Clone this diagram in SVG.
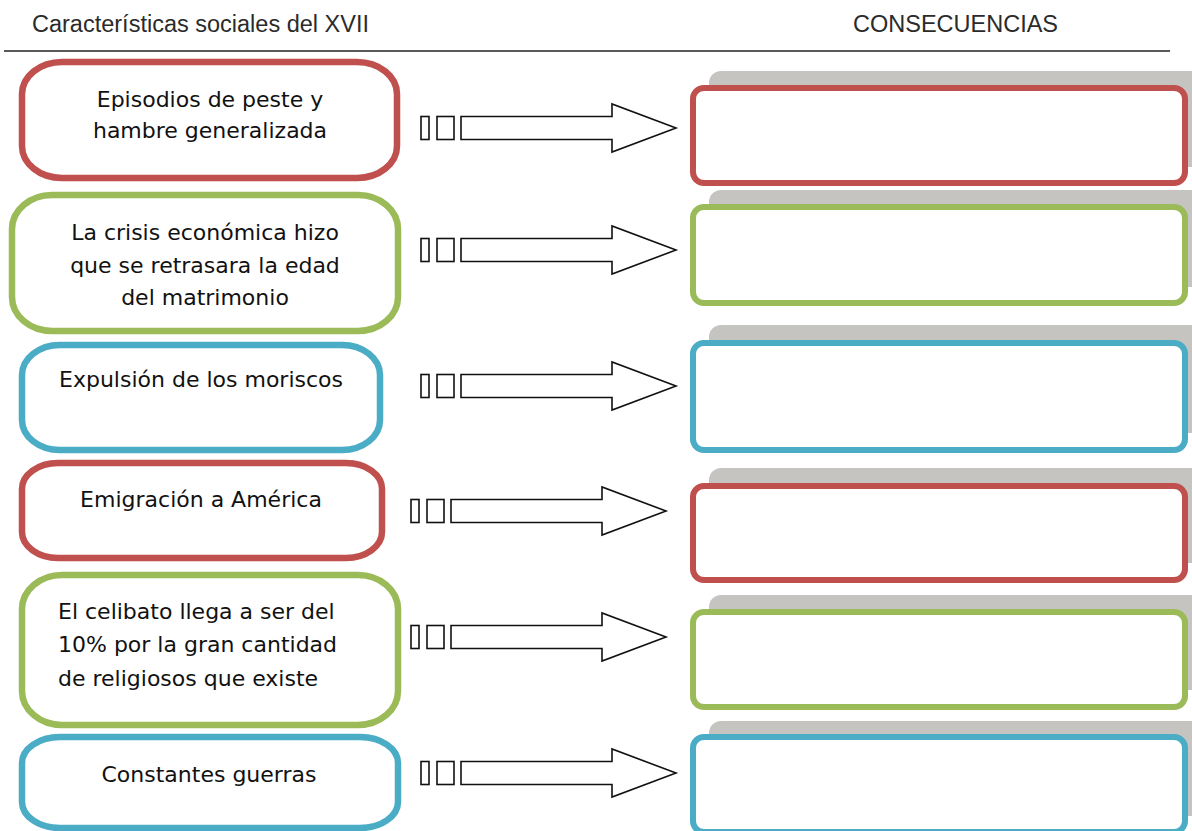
<svg xmlns="http://www.w3.org/2000/svg" width="1192" height="831" viewBox="0 0 1192 831">
<style>
.hdr{font-family:"Liberation Sans",Arial,sans-serif;font-size:23.5px;fill:#2b2b2b}
.t{font-family:"Comic Sans MS","DejaVu Sans",sans-serif;font-size:22px;fill:#111}
.c{text-anchor:middle}
.lb{fill:#fff;stroke-width:6.5}
.rb{fill:#fff;stroke-width:6}
.sh{fill:#c5c4c0}
.red{stroke:#c0504d}
.grn{stroke:#9bbb59}
.blu{stroke:#4bacc6}
.ar{fill:#fff;stroke:#111;stroke-width:1.6;stroke-linejoin:miter}
</style>
<defs>
<g id="arrow">
<rect class="ar" x="0" y="-11.5" width="8" height="23"/>
<rect class="ar" x="16" y="-11.5" width="17" height="23"/>
<polygon class="ar" points="40,-11.5 191,-11.5 191,-24 255,0 191,24 191,11.5 40,11.5"/>
</g>
</defs>
<rect width="1192" height="831" fill="#fff"/>
<text class="hdr" x="32" y="32">Características sociales del XVII</text>
<text class="hdr" x="853" y="32">CONSECUENCIAS</text>
<line x1="4" y1="51" x2="1170" y2="51" stroke="#222" stroke-width="1.3"/>

<g id="n1">
<rect class="lb red" x="22" y="62" width="375" height="116" rx="40" ry="32"/>
<text class="t c" x="210" y="107">Episodios de peste y</text>
<text class="t c" x="210" y="138">hambre generalizada</text>
</g>
<g id="n2">
<rect class="lb grn" x="12" y="195" width="386" height="136" rx="40" ry="34"/>
<text class="t c" x="205" y="240">La crisis económica hizo</text>
<text class="t c" x="205" y="273">que se retrasara la edad</text>
<text class="t c" x="205" y="305">del matrimonio</text>
</g>
<g id="n3">
<rect class="lb blu" x="22" y="345" width="358" height="105" rx="38" ry="30"/>
<text class="t c" x="201" y="387">Expulsión de los moriscos</text>
</g>
<g id="n4">
<rect class="lb red" x="22" y="463" width="360" height="95" rx="36" ry="26"/>
<text class="t c" x="201" y="507">Emigración a América</text>
</g>
<g id="n5">
<rect class="lb grn" x="22" y="575" width="376" height="150" rx="40" ry="34"/>
<text class="t" x="58" y="619">El celibato llega a ser del</text>
<text class="t" x="58" y="652">10% por la gran cantidad</text>
<text class="t" x="58" y="686">de religiosos que existe</text>
</g>
<g id="n6">
<rect class="lb blu" x="22" y="737" width="376" height="91" rx="38" ry="26"/>
<text class="t c" x="209" y="782">Constantes guerras</text>
</g>

<g id="r1"><rect class="sh" x="709" y="71" width="500" height="96" rx="12"/><rect class="rb red" x="693" y="88" width="492" height="95" rx="11"/></g>
<g id="r2"><rect class="sh" x="709" y="190" width="500" height="97" rx="12"/><rect class="rb grn" x="693" y="207" width="492" height="96" rx="11"/></g>
<g id="r3"><rect class="sh" x="709" y="325" width="500" height="108" rx="12"/><rect class="rb blu" x="693" y="343" width="492" height="107" rx="11"/></g>
<g id="r4"><rect class="sh" x="709" y="468" width="500" height="95" rx="12"/><rect class="rb red" x="693" y="486" width="492" height="94" rx="11"/></g>
<g id="r5"><rect class="sh" x="709" y="595" width="500" height="95" rx="12"/><rect class="rb grn" x="693" y="612" width="492" height="95" rx="11"/></g>
<g id="r6"><rect class="sh" x="709" y="721" width="500" height="95" rx="12"/><rect class="rb blu" x="693" y="737" width="492" height="95" rx="11"/></g>

<g id="connectors">
<use href="#arrow" x="421" y="128"/>
<use href="#arrow" x="421" y="250"/>
<use href="#arrow" x="421" y="386"/>
<use href="#arrow" x="411" y="511"/>
<use href="#arrow" x="411" y="637"/>
<use href="#arrow" x="421" y="773"/>
</g>
</svg>
